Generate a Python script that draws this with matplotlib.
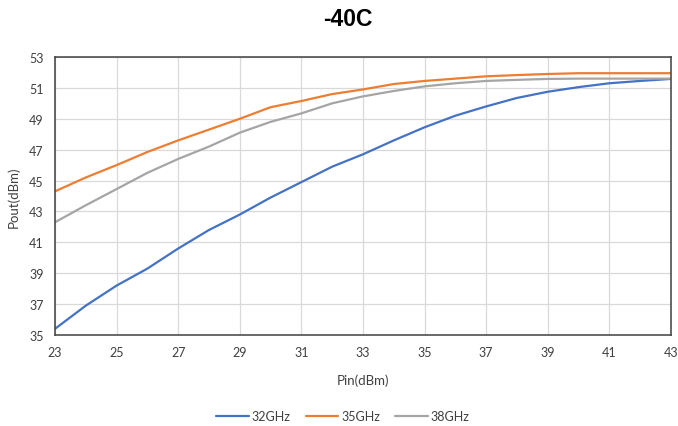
import matplotlib
matplotlib.use('Agg')
import matplotlib.pyplot as plt
import numpy as np

# Data
pin = list(range(23, 44))
pout_32ghz = [35.4, 36.9, 38.2, 39.3, 40.6, 41.8, 42.8, 43.9, 44.9, 45.9, 46.7,
              47.6, 48.45, 49.2, 49.8, 50.35, 50.75, 51.05, 51.3, 51.45, 51.58]
pout_35ghz = [44.3, 45.2, 46.0, 46.85, 47.6, 48.3, 49.0, 49.75, 50.15, 50.6, 50.9,
              51.25, 51.45, 51.6, 51.75, 51.83, 51.9, 51.95, 51.95, 51.95, 51.95]
pout_38ghz = [42.3, 43.4, 44.45, 45.5, 46.4, 47.2, 48.1, 48.8, 49.35, 50.0, 50.45,
              50.8, 51.1, 51.3, 51.45, 51.52, 51.58, 51.6, 51.6, 51.6, 51.6]
series_names = ['32GHz', '35GHz', '38GHz']
x_ticks = list(range(23, 44, 2))
y_ticks = list(range(35, 54, 2))

colors = ['#4472C4', '#ED7D31', '#A5A5A5']
plt.rcParams['font.family'] = ['Lato', 'DejaVu Sans']

fig = plt.figure(figsize=(6.78, 4.27), dpi=100)
ax = fig.add_axes([55 / 678, 1 - 336 / 427, 616 / 678, 278 / 427])

for vals, name, c in zip([pout_32ghz, pout_35ghz, pout_38ghz], series_names, colors):
    ax.plot(pin, vals, color=c, lw=1.6, label=name, solid_capstyle='round')

ax.set_xlim(23, 43)
ax.set_ylim(35, 53)
ax.set_xticks(x_ticks)
ax.set_yticks(y_ticks)
ax.grid(True, color='#D9D9D9', lw=0.9)
ax.set_axisbelow(True)
for s in ax.spines.values():
    s.set_color('#404040')
    s.set_linewidth(1.1)
ax.tick_params(length=0, labelsize=9, colors='#404040', pad=8)

ax.set_xlabel('Pin(dBm)', fontsize=9.5, color='#404040', labelpad=11)
ax.set_ylabel('Pout(dBm)', fontsize=9.5, color='#404040', labelpad=7)

fig.text(348 / 678, 1 - 19 / 427, '-40C', ha='center', va='center',
         fontsize=16.5, fontweight='bold', family='Liberation Sans')

fig.legend(loc='center', bbox_to_anchor=(343 / 678, 1 - 417 / 427), ncol=3,
           frameon=False, fontsize=9, handlelength=2.6, columnspacing=1.2,
           labelcolor='#404040', handletextpad=0.25)

fig.savefig('out.png', dpi=100)
